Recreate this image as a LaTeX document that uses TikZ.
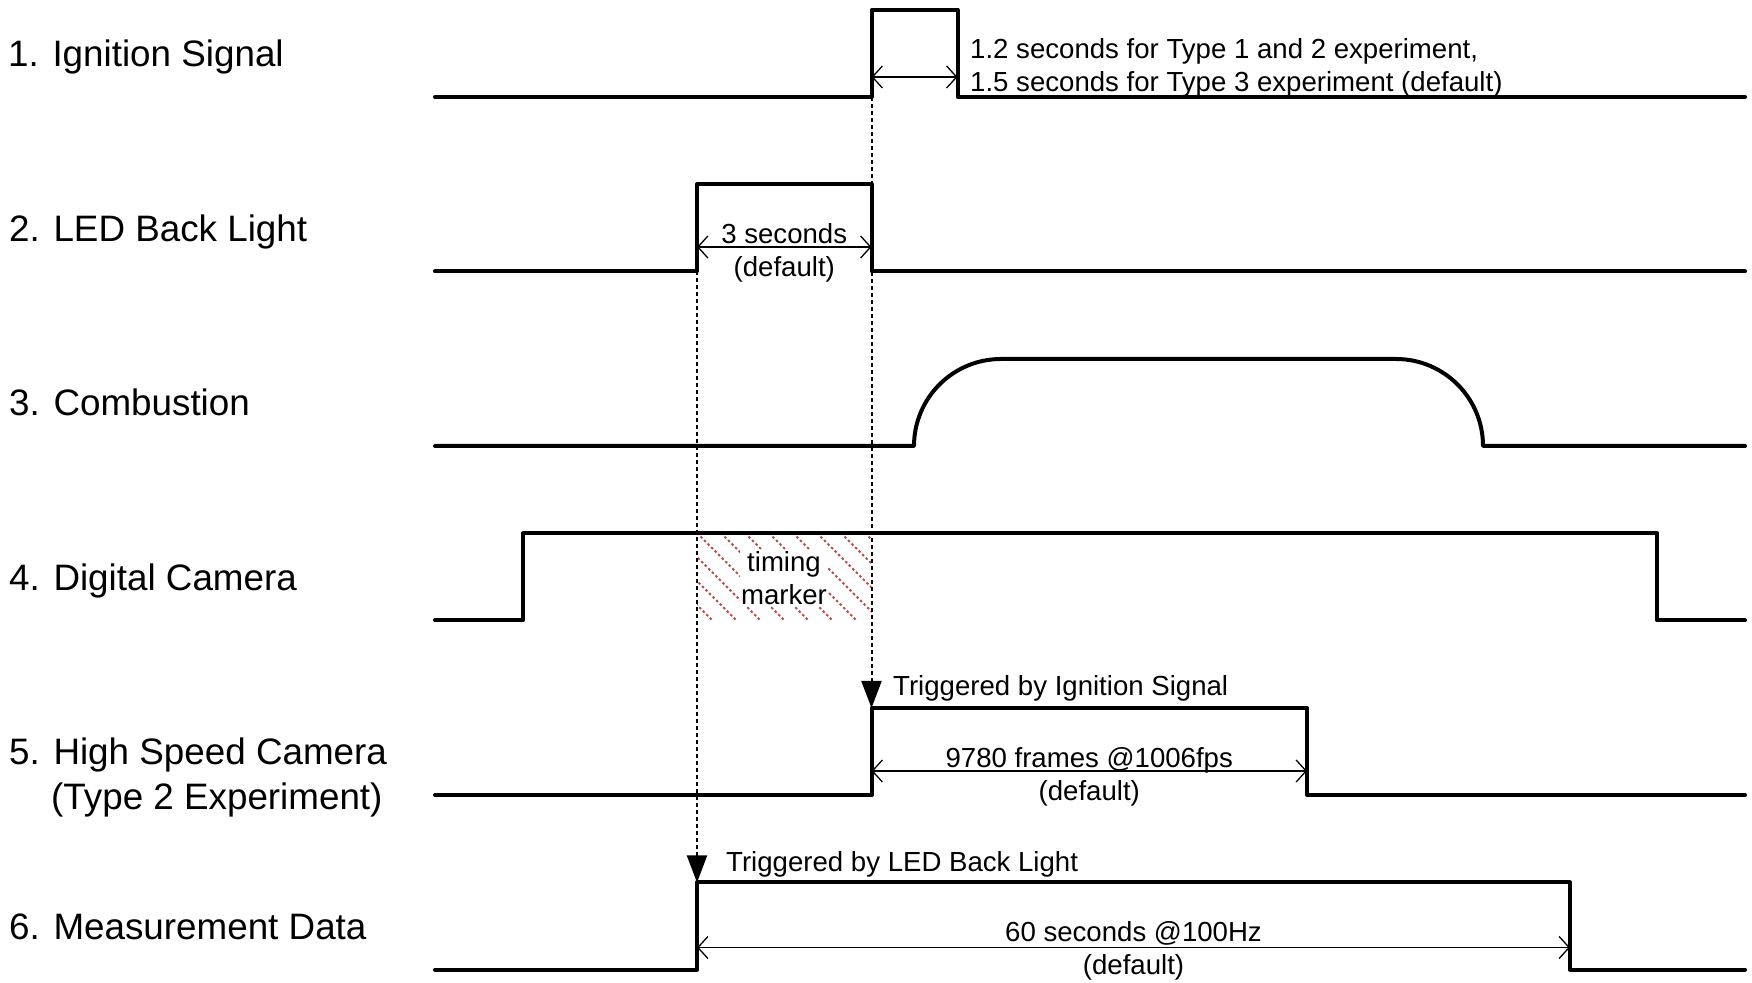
\documentclass[tikz,border=0pt]{standalone}
\usepackage{fontspec}
\setmainfont{Liberation Sans}
\usetikzlibrary{arrows.meta}
\definecolor{hatchred}{RGB}{196,72,68}

\begin{document}
\begin{tikzpicture}[x=1pt, y=1pt,
        signal/.style={line width=4pt, line cap=round, line join=round},
        guide/.style={line width=2pt, dash pattern=on 4pt off 3pt},
        trigger/.style={guide, -{Triangle[length=27pt, width=20pt]}},
        dim/.style={line width=1.3pt,
            {Straight Barb[length=10pt, width=22pt]}-{Straight Barb[length=10pt, width=22pt]}},
        hatch/.style={hatchred, line width=2pt, dash pattern=on 2.5pt off 2.5pt},
        rowlabel/.style={inner sep=0pt, anchor=base west, font=\fontsize{36.8}{44.7}\selectfont},
        note/.style={inner sep=0pt, font=\fontsize{27.6}{33}\selectfont}
    ]
    \useasboundingbox (0,0) rectangle (1752,982);

    % row labels
    \node[rowlabel] (lab1) at (8,915.3) {1. Ignition Signal};
    \node[rowlabel] (lab2) at (9,740.8) {2. LED Back Light};
    \node[rowlabel] (lab3) at (9,566.3) {3. Combustion};
    \node[rowlabel] (lab4) at (9,391.8) {4. Digital Camera};
    \node[rowlabel] (lab5) at (9,217.3) {5. High Speed Camera};
    \node[rowlabel] (lab5b) at (51,172.6) {(Type 2 Experiment)};
    \node[rowlabel] (lab6) at (9,42.8) {6. Measurement Data};

    % timing marker
    \begin{scope}
        \clip (697,362) rectangle (871.5,449);
        \foreach \s in {601,625,...,889}
            \draw[hatch] (\s,449) -- ++(110,-110);
    \end{scope}
    \node[note, align=center, fill=white, inner sep=1pt] (marker) at (784,404) {timing\\marker};

    % edges
    \coordinate (ign rise) at (871.5,885);
    \coordinate (ign fall) at (957.5,885);
    \coordinate (led rise) at (697,710.5);
    \coordinate (led fall) at (871.5,710.5);
    \coordinate (hsc rise) at (871.5,274);
    \coordinate (hsc fall) at (1307,274);
    \coordinate (mes rise) at (697,99.5);
    \coordinate (mes fall) at (1570,99.5);

    % triggers
    \draw[trigger] (ign rise) -- (hsc rise);
    \draw[trigger] (led rise) -- (mes rise);

    % signals
    \draw[signal] (435,885) -- (ign rise) -- ++(0,87) -| (ign fall) -- (1745,885);
    \draw[signal] (435,710.5) -- (led rise) -- ++(0,87) -| (led fall) -- (1745,710.5);
    \draw[signal] (435,536) -- (914,536) arc[start angle=180, end angle=90, radius=87pt]
        -- (1396,623) arc[start angle=90, end angle=0, radius=87pt] -- (1745,536);
    \draw[signal] (435,361.5) -- (523,361.5) -- (523,448.5) -- (1657,448.5) -- (1657,361.5) -- (1745,361.5);
    \draw[signal] (435,187) -- (871.5,187) -- (hsc rise) -| (hsc fall) -- (1307,187) -- (1745,187);
    \draw[signal] (435,12.5) -- (697,12.5) -- (mes rise) -| (mes fall) -- (1570,12.5) -- (1745,12.5);

    % durations
    \draw[dim] ([yshift=20pt]ign rise) -- ([yshift=20pt]ign fall);
    \node[note, anchor=west, align=left] (ignnote) at (970,914)
        {1.2 seconds for Type 1 and 2 experiment,\\1.5 seconds for Type 3 experiment (default)};
    \draw[dim] ([yshift=24.5pt]led rise) -- ([yshift=24.5pt]led fall)
        node[note, midway, align=center, yshift=-6pt] (lednote) {3 seconds\\(default)};
    \draw[dim] ([yshift=-63pt]hsc rise) -- ([yshift=-63pt]hsc fall)
        node[note, midway, align=center, yshift=-6pt] (hscnote) {9780 frames @1006fps\\(default)};
    \draw[dim] ([yshift=-65pt]mes rise) -- ([yshift=-65pt]mes fall)
        node[note, midway, align=center, yshift=-3pt] (mesnote) {60 seconds @100Hz\\(default)};

    \node[note, anchor=base west] (hsctrig) at (893,286) {Triggered by Ignition Signal};
    \node[note, anchor=base west] (mestrig) at (726,110.5) {Triggered by LED Back Light};
\end{tikzpicture}
\end{document}
